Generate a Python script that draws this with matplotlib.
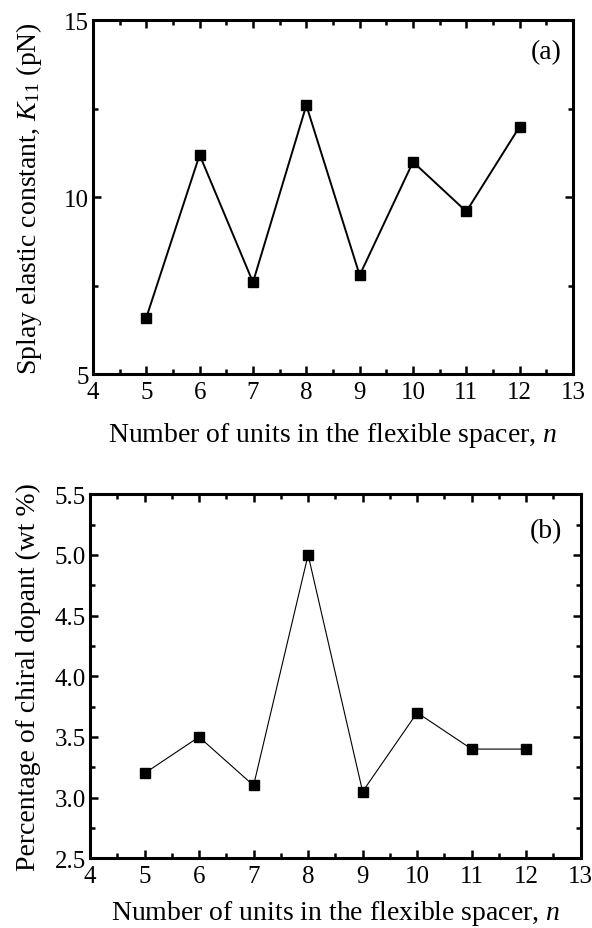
import matplotlib
matplotlib.use('Agg')
import matplotlib.pyplot as plt
from matplotlib.ticker import MultipleLocator

plt.rcParams['font.family'] = 'Liberation Serif'
plt.rcParams['mathtext.fontset'] = 'custom'
plt.rcParams['mathtext.rm'] = 'Liberation Serif'
plt.rcParams['mathtext.it'] = 'Liberation Serif:italic'

n_units = [5, 6, 7, 8, 9, 10, 11, 12]
k11 = [6.6, 11.2, 7.6, 12.6, 7.8, 11.0, 9.6, 12.0]
dopant = [3.2, 3.5, 3.1, 5.0, 3.05, 3.7, 3.4, 3.4]

fig = plt.figure(figsize=(5.92, 9.29), dpi=100)
ax1 = fig.add_axes([0.157, 0.596, 0.811, 0.381])
ax2 = fig.add_axes([0.152, 0.075, 0.829, 0.392])

def style(ax, ymaj, ymin, xpad):
    ax.xaxis.set_major_locator(MultipleLocator(1))
    ax.xaxis.set_minor_locator(MultipleLocator(0.5))
    ax.yaxis.set_major_locator(MultipleLocator(ymaj))
    ax.yaxis.set_minor_locator(MultipleLocator(ymin))
    ax.tick_params(which='both', direction='in', top=True, right=True,
                   labelsize=18, width=1.8)
    ax.tick_params(which='major', length=6)
    ax.tick_params(axis='x', which='major', pad=5)
    ax.tick_params(axis='y', which='major', pad=3)
    ax.tick_params(which='minor', length=3.5)
    for s in ax.spines.values():
        s.set_linewidth(2.2)
    ax.set_xlabel('Number of units in the flexible spacer, $n$', fontsize=20, labelpad=xpad)

ax1.plot(n_units, k11, 'k-', lw=1.4, marker='s', ms=7.5)
ax1.set_xlim(4, 13)
ax1.set_ylim(5, 15)
style(ax1, 5, 2.5, 12)
ax1.set_ylabel('Splay elastic constant, $K_{11}$ (pN)', fontsize=20, labelpad=14)
ax1.text(0.977, 0.912, '(a)', transform=ax1.transAxes, ha='right', va='center', fontsize=20)

ax2.plot(n_units, dopant, 'k-', lw=0.8, marker='s', ms=7.5)
ax2.set_xlim(4, 13)
ax2.set_ylim(2.5, 5.5)
style(ax2, 0.5, 0.25, 8)
ax2.yaxis.set_major_formatter(matplotlib.ticker.FormatStrFormatter('%.1f'))
ax2.set_ylabel('Percentage of chiral dopant (wt %)', fontsize=20, labelpad=10)
ax2.text(0.963, 0.90, '(b)', transform=ax2.transAxes, ha='right', va='center', fontsize=20)

fig.savefig('out.png', dpi=100)
